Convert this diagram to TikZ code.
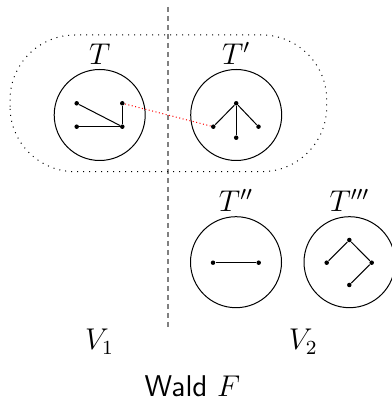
\documentclass[tikz,border=0pt]{standalone}
\usepackage{xcolor}
\usepackage{amsmath,amssymb}
\usepackage{tikz}
\usetikzlibrary{positioning}

\begin{document}
\begin{tikzpicture}[x=4pt, y=4pt,
    tree/.style={draw, circle, minimum size=36.4pt, inner sep=0pt},
    vtx/.style={fill, circle, minimum size=1.8pt, inner sep=0pt},
    lbl/.style={font=\large}]
    \useasboundingbox (0,0) rectangle (39.2,40);

    % Split V1 | V2
    \draw [gray, line width=0.8pt, dash pattern=on 2pt off 1.6pt] (16.77,39.3) -- (16.77,6.93);
    \draw [dotted, rounded corners=26pt] (1,22.83) rectangle (32.67,36.5);

    % Trees
    \node [tree] (T) at (9.97,28.5) {};
    \node [tree] (T1) at (23.62,28.5) {};
    \node [tree] (T2) at (23.6,13.78) {};
    \node [tree] (T3) at (34.95,13.78) {};
    \node [lbl, above=-1.7pt of T] (labT) {$T$};
    \node [lbl, above=-1.7pt of T1] (labT1) {$T'$};
    \node [lbl, above=-1.7pt of T2] (labT2) {$T''$};
    \node [lbl, above=-1.7pt of T3] (labT3) {$T'''$};

    % Vertices of T
    \node [vtx] (a1) at (7.67,29.67) {};
    \node [vtx] (a2) at (12.23,29.67) {};
    \node [vtx] (a3) at (7.67,27.33) {};
    \node [vtx] (a4) at (12.23,27.33) {};
    \draw (a1) -- (a4);
    \draw (a3) -- (a4);
    \draw (a2) -- (a4);

    % Vertices of T'
    \node [vtx] (b1) at (23.62,29.67) {};
    \node [vtx] (b2) at (21.33,27.33) {};
    \node [vtx] (b3) at (25.85,27.33) {};
    \node [vtx] (b4) at (23.62,26.23) {};
    \draw (b1) -- (b2);
    \draw (b1) -- (b3);
    \draw (b1) -- (b4);

    % Vertices of T''
    \node [vtx] (c1) at (21.3,13.73) {};
    \node [vtx] (c2) at (25.87,13.73) {};
    \draw (c1) -- (c2);

    % Vertices of T'''
    \node [vtx] (d1) at (34.93,16) {};
    \node [vtx] (d2) at (32.67,13.73) {};
    \node [vtx] (d3) at (37.17,13.73) {};
    \node [vtx] (d4) at (34.93,11.5) {};
    \draw (d2) -- (d1) -- (d3) -- (d4);

    % Crossing edge
    \draw [red, densely dotted] (a2) -- (b2);

    % Names
    \node [lbl, anchor=base] (V1) at (9.95,5) {$V_1$};
    \node [lbl, anchor=base] (V2) at (30.33,5) {$V_2$};
    \node [lbl, anchor=base] (wald) at (19.25,0.4) {\textsf{Wald} $F$};
\end{tikzpicture}
\end{document}
